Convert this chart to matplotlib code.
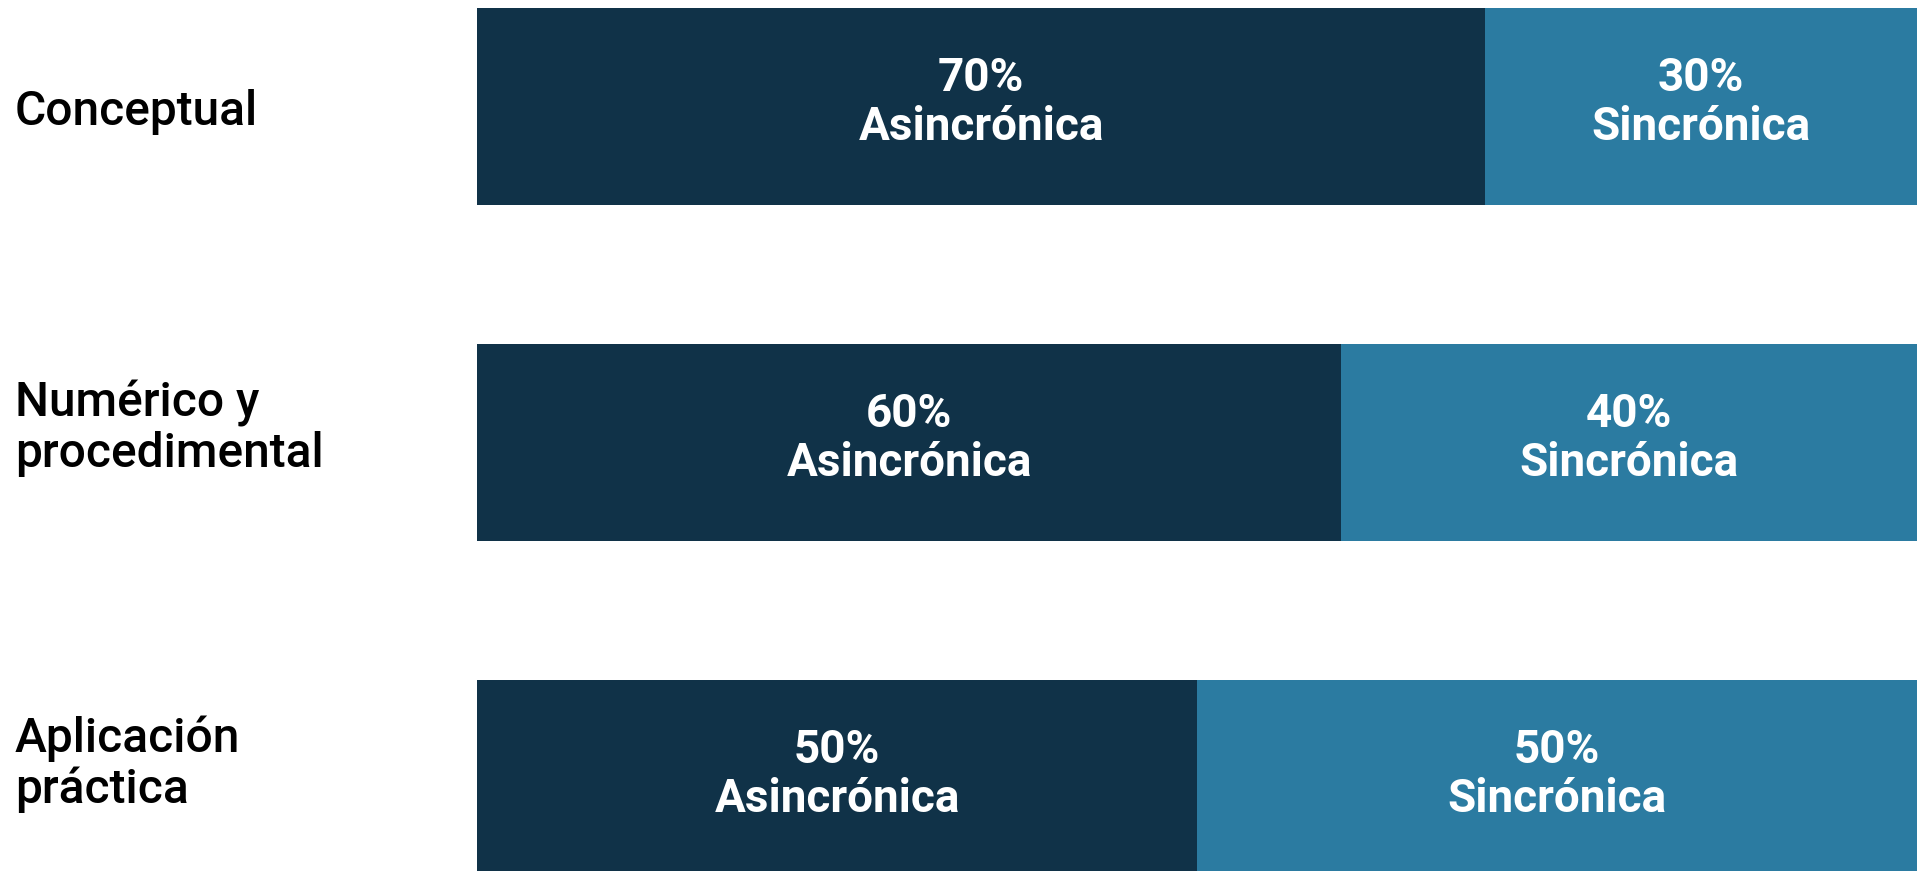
import matplotlib
matplotlib.use("Agg")
import matplotlib.pyplot as plt
from matplotlib import transforms

# ---- data ----
categories = ["Conceptual", "Numérico y\nprocedimental", "Aplicación\npráctica"]
asincronica = [70, 60, 50]
sincronica = [30, 40, 50]
series_names = ["Asincrónica", "Sincrónica"]

# ---- style / layout ----
DARK = "#103248"
LIGHT = "#2B7BA1"
W, H, DPI = 1917, 871, 100

plt.rcParams["font.family"] = ["Roboto", "DejaVu Sans"]

fig = plt.figure(figsize=(W / DPI, H / DPI), dpi=DPI)
ax = fig.add_axes([477 / W, 0, 1 - 477 / W, 1])

ys = list(range(len(categories)))
bar_h = 0.587
ax.barh(ys, asincronica, height=bar_h, color=DARK, linewidth=0)
ax.barh(ys, sincronica, left=asincronica, height=bar_h, color=LIGHT, linewidth=0)
ax.set_xlim(0, 100)
ax.set_ylim(2.275, -0.318)
ax.axis("off")

# segment labels
text_shift = transforms.ScaledTranslation(0, 4 / DPI, fig.dpi_scale_trans)
for i in ys:
    lefts = [0, asincronica[i]]
    vals = [asincronica[i], sincronica[i]]
    for name, left, v in zip(series_names, lefts, vals):
        ax.text(left + v / 2, i, f"{v}%\n{name}", ha="center", va="center",
                color="white", fontsize=33, fontweight="bold", linespacing=1.15,
                transform=ax.transData + text_shift)

# category labels
blend = transforms.blended_transform_factory(fig.transFigure, ax.transData)
for i, cat in enumerate(categories):
    extra = cat.count("\n")
    shift = transforms.ScaledTranslation(0, (19 * extra - 5) / DPI, fig.dpi_scale_trans)
    ax.text(15 / W, i, cat, ha="left", va="center", color="black",
            fontsize=34.5, fontweight="medium", linespacing=1.12,
            transform=blend + shift)

fig.savefig("out.png", dpi=DPI)
